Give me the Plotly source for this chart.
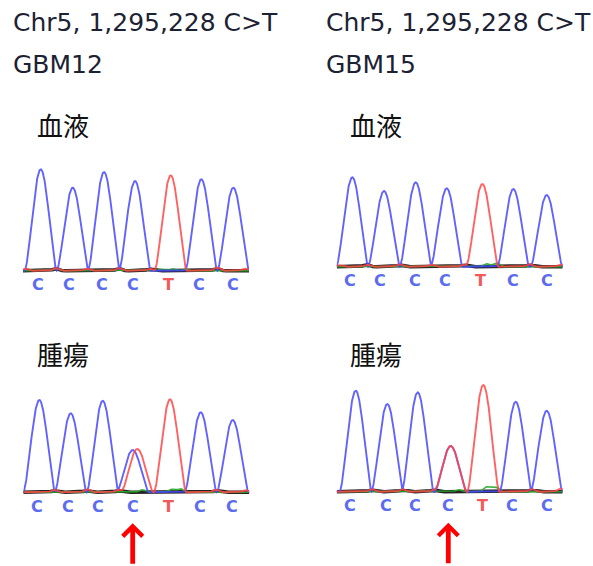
import numpy as np
import plotly.graph_objects as go

FIG_W, FIG_H = 593, 566

# ---- sequence context around chr5:1,295,228 -------------------------------
BASES = ["C", "C", "C", "C", "T", "C", "C"]
MUT_INDEX = 3           # the C>T site
TRACE_SPAN = 226        # scan points shown in each chromatogram

TITLES = ["Chr5, 1,295,228 C>T", "Chr5, 1,295,228 C>T"]
SAMPLES = ["GBM12", "GBM15"]
TISSUES = ["血液", "腫瘍"]

# ---- GBM12 blood ----------------------------------------------------------
b12_calls = [15.3, 46.3, 78.7, 110.3, 145.3, 176.3, 209.7]
b12_c_pos = [17.7, 49.7, 81.0, 112.0, 178.3, 210.3]
b12_c_h = [101.4, 83.0, 98.7, 89.7, 91.4, 83.0]
b12_t_pos = [147.7, 3, 33, 64, 96, 127, 194, 222]
b12_t_h = [95.4, 2.0, 2.5, 2.0, 2.5, 2.0, 3.0, 2.0]
b12_a_pos = [33, 138, 150, 162]
b12_a_h = [2.0, 1.5, 1.8, 1.5]
b12_g_pos = [33, 96, 127, 194]
b12_g_h = [2.0, 2.0, 1.5, 2.0]

# ---- GBM15 blood ----------------------------------------------------------
b15_calls = [13.3, 43.3, 78.3, 108.3, 143.3, 176.0, 210.0]
b15_c_pos = [15.6, 47.3, 79.0, 110.0, 176.6, 210.0]
b15_c_h = [89.4, 75.7, 84.4, 78.4, 77.7, 71.7]
b15_t_pos = [145.6, 2, 31, 63, 95, 127, 193, 224]
b15_t_h = [82.7, 1.5, 2.0, 2.5, 2.0, 2.0, 2.5, 2.0]
b15_a_pos = [150, 160]
b15_a_h = [3.0, 3.5]
b15_g_pos = [30, 63, 128, 193]
b15_g_h = [2.0, 1.5, 1.5, 1.5]

# ---- GBM12 tumour ---------------------------------------------------------
t12_calls = [14.0, 45.0, 75.0, 109.4, 145.0, 176.7, 208.4]
t12_c_pos = [16.0, 47.4, 79.4, 109.4, 177.4, 209.4]
t12_c_h = [92.3, 79.0, 91.6, 42.3, 80.0, 72.3]
t12_t_pos = [114.0, 146.7, 31, 64, 95, 193, 222]
t12_t_h = [43.3, 93.0, 2.5, 3.0, 2.5, 2.5, 2.0]
t12_a_pos = [119, 148, 157]
t12_a_h = [2.5, 3.0, 3.5]
t12_g_pos = [31, 63, 95, 193]
t12_g_h = [1.5, 1.5, 1.5, 1.5]

# ---- GBM15 tumour ---------------------------------------------------------
t15_calls = [13.3, 49.0, 78.3, 111.6, 145.6, 175.6, 210.0]
t15_c_pos = [19.0, 50.6, 81.0, 114.0, 179.0, 210.0]
t15_c_h = [101.0, 87.7, 99.4, 45.7, 90.0, 81.0]
t15_t_pos = [114.0, 146.6, 35, 66, 97, 195, 224]
t15_t_h = [45.7, 106.7, 2.5, 2.5, 2.0, 2.5, 3.0]
t15_a_pos = [122, 150, 158]
t15_a_h = [2.0, 5.0, 5.0]
t15_g_pos = [35, 66, 97, 195]
t15_g_h = [1.5, 1.5, 1.5, 1.5]

panels = [
    dict(calls=b12_calls, C=(b12_c_pos, b12_c_h), T=(b12_t_pos, b12_t_h),
         A=(b12_a_pos, b12_a_h), G=(b12_g_pos, b12_g_h), arrow=False),
    dict(calls=b15_calls, C=(b15_c_pos, b15_c_h), T=(b15_t_pos, b15_t_h),
         A=(b15_a_pos, b15_a_h), G=(b15_g_pos, b15_g_h), arrow=False),
    dict(calls=t12_calls, C=(t12_c_pos, t12_c_h), T=(t12_t_pos, t12_t_h),
         A=(t12_a_pos, t12_a_h), G=(t12_g_pos, t12_g_h), arrow=True),
    dict(calls=t15_calls, C=(t15_c_pos, t15_c_h), T=(t15_t_pos, t15_t_h),
         A=(t15_a_pos, t15_a_h), G=(t15_g_pos, t15_g_h), arrow=True),
]

# placement of each chromatogram on the page (left edge, baseline), in px
PANEL_LEFT = [23.0, 336.7, 23.3, 336.7]
PANEL_BASE = [270.7, 266.7, 492.3, 491.7]
TOP_ROOM = 115
BOTTOM_ROOM = [30, 30, 73, 73]

CHANNEL_STYLE = {
    "G": dict(color="rgba(25,25,25,0.95)", width=3.6),
    "A": dict(color="rgba(40,170,40,0.9)", width=1.6),
    "C": dict(color="rgba(70,70,255,0.85)", width=1.9),
    "T": dict(color="rgba(255,70,70,0.85)", width=1.9),
}
CALL_COLOR = {"C": "#5c6cf0", "T": "#f25a5a"}

x = np.linspace(0, TRACE_SPAN, 1200)


def channel_signal(pos, heights):
    """Sum of bell-shaped peaks, one per called position."""
    y = np.zeros_like(x)
    for p, h in zip(pos, heights):
        w = 16.0 if h > 10 else 7.0
        d = np.abs(x - p)
        y += np.where(d < w, h * np.cos(np.pi * d / (2 * w)) ** 1.6, 0.0)
    return y


fig = go.Figure()
annotations = []
layout_axes = {}

for i, pan in enumerate(panels, start=1):
    xa, ya = f"x{i}", f"y{i}"
    for ch in ["G", "A", "C", "T"]:
        pos, hts = pan[ch]
        fig.add_trace(go.Scatter(
            x=x, y=channel_signal(pos, hts), mode="lines",
            line=dict(color=CHANNEL_STYLE[ch]["color"],
                      width=CHANNEL_STYLE[ch]["width"]),
            xaxis=xa, yaxis=ya, hoverinfo="skip", showlegend=False))

    left = PANEL_LEFT[i - 1]
    base = PANEL_BASE[i - 1]
    bottom = BOTTOM_ROOM[i - 1]
    top_px = base - TOP_ROOM
    bot_px = base + bottom
    layout_axes[f"xaxis{i}"] = dict(
        domain=[left / FIG_W, (left + TRACE_SPAN) / FIG_W],
        range=[0, TRACE_SPAN], visible=False, anchor=ya, fixedrange=True)
    layout_axes[f"yaxis{i}"] = dict(
        domain=[max(0.0, 1 - bot_px / FIG_H), 1 - top_px / FIG_H],
        range=[-bottom, TOP_ROOM], visible=False, anchor=xa, fixedrange=True)

    # base calls under the trace
    for b, cx in zip(BASES, pan["calls"]):
        annotations.append(dict(
            x=cx, y=-14, xref=xa, yref=ya, text=b, showarrow=False,
            font=dict(family="DejaVu Sans", size=16,
                      color=CALL_COLOR[b], weight="bold"),
            xanchor="center", yanchor="middle"))

    # marker for the variant position
    if pan["arrow"]:
        annotations.append(dict(
            x=pan["calls"][MUT_INDEX], y=-31, xref=xa, yref=ya, text="",
            showarrow=True, arrowhead=4, arrowsize=0.8, arrowwidth=4.8,
            arrowcolor="#ff0000", ax=0, ay=42, standoff=0))

TITLE_FONT = dict(family="DejaVu Sans", size=25, color="#1c2233")
CJK_FONT = dict(family="Noto Sans CJK JP", size=26, color="#111111")
col_left = [11, 324]
tissue_left = [35, 348]

for k in range(2):
    annotations.append(dict(
        x=col_left[k] / FIG_W, y=1 - 22 / FIG_H, xref="paper", yref="paper",
        text=TITLES[k], showarrow=False, xanchor="left", yanchor="middle",
        font=TITLE_FONT))
    annotations.append(dict(
        x=col_left[k] / FIG_W, y=1 - 64 / FIG_H, xref="paper", yref="paper",
        text=SAMPLES[k], showarrow=False, xanchor="left", yanchor="middle",
        font=TITLE_FONT))
    for j, ty in enumerate([124, 353]):
        annotations.append(dict(
            x=tissue_left[k] / FIG_W, y=1 - ty / FIG_H, xref="paper",
            yref="paper", text=TISSUES[j], showarrow=False, xanchor="left",
            yanchor="middle", font=CJK_FONT))

fig.update_layout(
    width=FIG_W, height=FIG_H,
    margin=dict(l=0, r=0, t=0, b=0, pad=0),
    paper_bgcolor="white", plot_bgcolor="white",
    annotations=annotations,
    showlegend=False,
    **layout_axes,
)

fig.write_html("out.html", config={"displayModeBar": False})
